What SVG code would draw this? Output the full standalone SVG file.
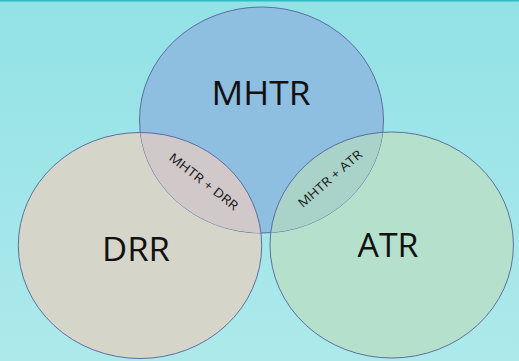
<svg xmlns="http://www.w3.org/2000/svg" width="519" height="361" viewBox="0 0 519 361">
<defs>
<linearGradient id="bg" x1="0" y1="0" x2="0" y2="1">
<stop offset="0" stop-color="#92e2e6"/>
<stop offset="1" stop-color="#ade9eb"/>
</linearGradient>
<clipPath id="clipTop"><ellipse cx="261.5" cy="120" rx="122" ry="113"/></clipPath>
</defs>
<style>
.c{stroke:#52639a;stroke-width:0.9}
.big{font-family:"Open Sans","Liberation Sans",Arial,sans-serif;font-size:33px;fill:#111;text-anchor:middle}
.small{font-family:"Open Sans","Liberation Sans",Arial,sans-serif;font-size:12.5px;fill:#1a1a1a;text-anchor:middle}
</style>
<rect width="519" height="361" fill="url(#bg)"/>
<rect width="519" height="1.5" fill="#2fbcc4"/>
<g id="drr">
<ellipse class="c" cx="140" cy="245.5" rx="121.7" ry="113" fill="#d5d6c9"/>
</g>
<g id="atr">
<ellipse class="c" cx="391.7" cy="245" rx="121.7" ry="113" fill="#b5e1cc"/>
</g>
<g id="mhtr">
<ellipse class="c" cx="261.5" cy="120" rx="122" ry="113" fill="#8fbfe0"/>
</g>
<g id="mhtr-drr">
<ellipse clip-path="url(#clipTop)" class="c" cx="140" cy="245.5" rx="121.7" ry="113" fill="#d1c8c9"/>
</g>
<g id="mhtr-atr">
<ellipse clip-path="url(#clipTop)" class="c" cx="391.7" cy="245" rx="121.7" ry="113" fill="#a9d3c8"/>
</g>
<g id="labels">
<text class="big" x="261" y="105" textLength="99" lengthAdjust="spacingAndGlyphs">MHTR</text>
<text class="big" x="136" y="261" textLength="68" lengthAdjust="spacingAndGlyphs">DRR</text>
<text class="big" x="388" y="257" textLength="61" lengthAdjust="spacingAndGlyphs">ATR</text>
<text class="small" transform="translate(201,185) rotate(38)" x="0" y="0" textLength="84" lengthAdjust="spacingAndGlyphs">MHTR + DRR</text>
<text class="small" transform="translate(333,182) rotate(-41)" x="0" y="0" textLength="80" lengthAdjust="spacingAndGlyphs">MHTR + ATR</text>
</g>
</svg>
